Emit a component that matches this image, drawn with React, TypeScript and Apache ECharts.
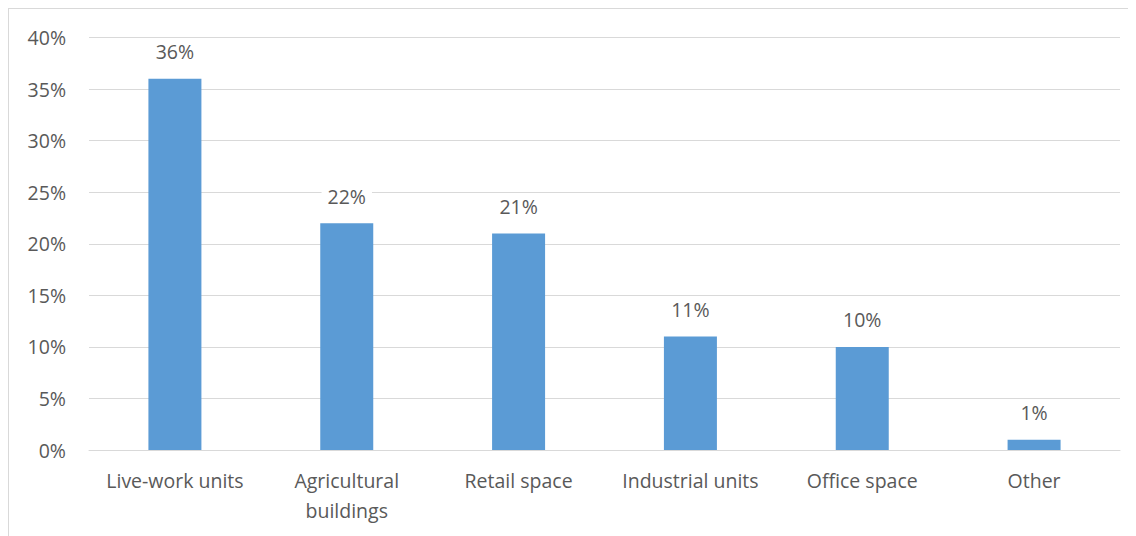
import React, { useEffect, useRef } from "react";
import * as echarts from "echarts";

const categories = ["Live-work units", "Agricultural\nbuildings", "Retail space", "Industrial units", "Office space", "Other"];
const values = [36, 22, 21, 11, 10, 1];
const yTicks = [0, 5, 10, 15, 20, 25, 30, 35, 40];

const FONT = "'Open Sans', 'Noto Sans', sans-serif";
const TEXT = "#595959";

export default function App() {
  const ref = useRef<HTMLDivElement>(null);
  useEffect(() => {
    if (!ref.current) return;
    const chart = echarts.init(ref.current, null, { renderer: "svg" });
    chart.setOption({
      animation: false,
      backgroundColor: "#ffffff",
      grid: { left: 80, right: 16, top: 28.5, bottom: 86, containLabel: false },
      xAxis: {
        type: "category",
        data: categories,
        axisLine: { show: true, lineStyle: { color: "#d9d9d9", width: 1 } },
        axisTick: { show: false },
        axisLabel: { color: TEXT, fontFamily: FONT, fontSize: 19.5, margin: 15, lineHeight: 30, interval: 0 },
      },
      yAxis: {
        type: "value",
        min: yTicks[0],
        max: yTicks[yTicks.length - 1],
        interval: 5,
        axisLine: { show: false },
        axisTick: { show: false },
        splitLine: { lineStyle: { color: "#d9d9d9", width: 1 } },
        axisLabel: { color: TEXT, fontFamily: FONT, fontSize: 19.5, margin: 23, formatter: (v: number) => v + "%" },
      },
      series: [
        {
          type: "bar",
          data: values,
          barWidth: 53,
          itemStyle: { color: "#5b9bd5" },
          label: {
            show: true,
            position: "top",
            distance: 15,
            color: TEXT,
            fontFamily: FONT,
            fontSize: 19.5,
            backgroundColor: "#ffffff",
            padding: [2, 6],
            formatter: (p: any) => p.value + "%",
          },
        },
      ],
    });
    return () => chart.dispose();
  }, []);
  return (
    <div
      style={{
        width: 1128,
        height: 528,
        boxSizing: "border-box",
        borderTop: "1px solid #d9d9d9",
        borderLeft: "1px solid #d9d9d9",
      }}
    >
      <div ref={ref} style={{ width: 1127, height: 527 }} />
    </div>
  );
}
